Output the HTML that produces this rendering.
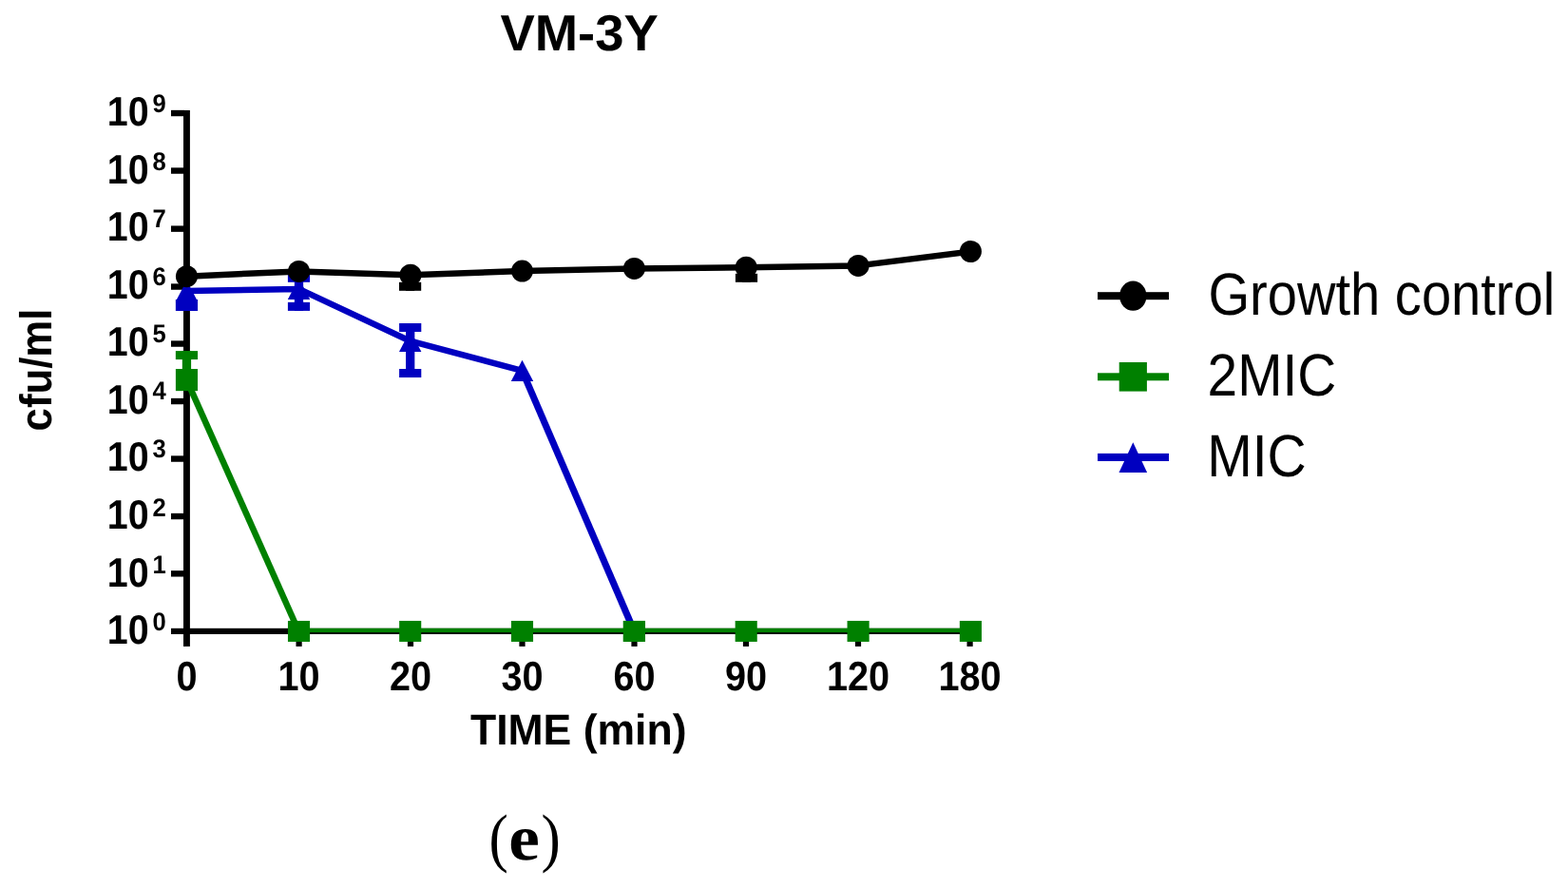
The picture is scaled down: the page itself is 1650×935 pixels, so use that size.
<!DOCTYPE html>
<html lang="en">
<head>
<meta charset="utf-8">
<title>VM-3Y</title>
<style>
html,body{margin:0;padding:0;background:#fff;}
body{width:1650px;height:935px;overflow:hidden;}
svg{display:block;}
text{font-family:"Liberation Sans",Arial,Helvetica,sans-serif;fill:#000;text-rendering:geometricPrecision;}
.b{font-weight:bold;}
.ser{font-family:"Liberation Serif","DejaVu Serif",serif;}
</style>
</head>
<body>
<svg width="1650" height="935" viewBox="0 0 1650 935">
<rect x="0" y="0" width="1650" height="935" fill="#ffffff"/>

<g id="axes">
<rect x="193.00" y="116.00" width="6.90" height="563.90" fill="#000000"/>
<rect x="180.00" y="660.80" width="844.00" height="6.20" fill="#000000"/>
<rect x="180.00" y="600.15" width="14.00" height="6.40" fill="#000000"/>
<rect x="180.00" y="539.85" width="14.00" height="6.40" fill="#000000"/>
<rect x="180.00" y="479.35" width="14.00" height="6.40" fill="#000000"/>
<rect x="180.00" y="418.85" width="14.00" height="6.40" fill="#000000"/>
<rect x="180.00" y="358.35" width="14.00" height="6.40" fill="#000000"/>
<rect x="180.00" y="298.35" width="14.00" height="6.40" fill="#000000"/>
<rect x="180.00" y="237.45" width="14.00" height="6.40" fill="#000000"/>
<rect x="180.00" y="176.35" width="14.00" height="6.40" fill="#000000"/>
<rect x="180.00" y="115.85" width="14.00" height="6.40" fill="#000000"/>
<rect x="311.50" y="664.00" width="6.20" height="15.90" fill="#000000"/>
<rect x="428.90" y="664.00" width="6.20" height="15.90" fill="#000000"/>
<rect x="546.40" y="664.00" width="6.20" height="15.90" fill="#000000"/>
<rect x="664.40" y="664.00" width="6.20" height="15.90" fill="#000000"/>
<rect x="781.90" y="664.00" width="6.20" height="15.90" fill="#000000"/>
<rect x="899.90" y="664.00" width="6.20" height="15.90" fill="#000000"/>
<rect x="1017.50" y="664.00" width="6.20" height="15.90" fill="#000000"/>
</g>
<g id="ylabels">
<text class="b" transform="translate(112.80 677.10) scale(0.915 1)" font-size="43.1">10<tspan x="52.24" dy="-14.40" font-size="27" textLength="15.59" lengthAdjust="spacingAndGlyphs">0</tspan></text>
<text class="b" transform="translate(112.80 617.00) scale(0.915 1)" font-size="43.1">10<tspan x="52.24" dy="-14.40" font-size="27" textLength="15.59" lengthAdjust="spacingAndGlyphs">1</tspan></text>
<text class="b" transform="translate(112.80 556.20) scale(0.915 1)" font-size="43.1">10<tspan x="52.24" dy="-13.40" font-size="27" textLength="15.59" lengthAdjust="spacingAndGlyphs">2</tspan></text>
<text class="b" transform="translate(112.80 495.00) scale(0.915 1)" font-size="43.1">10<tspan x="52.24" dy="-14.30" font-size="27" textLength="15.59" lengthAdjust="spacingAndGlyphs">3</tspan></text>
<text class="b" transform="translate(112.80 435.00) scale(0.915 1)" font-size="43.1">10<tspan x="52.24" dy="-14.90" font-size="27" textLength="15.59" lengthAdjust="spacingAndGlyphs">4</tspan></text>
<text class="b" transform="translate(112.80 374.00) scale(0.915 1)" font-size="43.1">10<tspan x="52.24" dy="-14.30" font-size="27" textLength="15.59" lengthAdjust="spacingAndGlyphs">5</tspan></text>
<text class="b" transform="translate(112.80 313.90) scale(0.915 1)" font-size="43.1">10<tspan x="52.24" dy="-14.30" font-size="27" textLength="15.59" lengthAdjust="spacingAndGlyphs">6</tspan></text>
<text class="b" transform="translate(112.80 252.90) scale(0.915 1)" font-size="43.1">10<tspan x="52.24" dy="-14.30" font-size="27" textLength="15.59" lengthAdjust="spacingAndGlyphs">7</tspan></text>
<text class="b" transform="translate(112.80 192.80) scale(0.915 1)" font-size="43.1">10<tspan x="52.24" dy="-13.90" font-size="27" textLength="15.59" lengthAdjust="spacingAndGlyphs">8</tspan></text>
<text class="b" transform="translate(112.80 132.00) scale(0.915 1)" font-size="43.1">10<tspan x="52.24" dy="-14.40" font-size="27" textLength="15.59" lengthAdjust="spacingAndGlyphs">9</tspan></text>
</g>
<g id="xlabels">
<text class="b" transform="translate(196.50 725.70) scale(0.9180 1.0000)" font-size="43.2" text-anchor="middle">0</text>
<text class="b" transform="translate(314.60 725.70) scale(0.9180 1.0000)" font-size="43.2" text-anchor="middle">10</text>
<text class="b" transform="translate(432.00 725.70) scale(0.9180 1.0000)" font-size="43.2" text-anchor="middle">20</text>
<text class="b" transform="translate(549.50 725.70) scale(0.9180 1.0000)" font-size="43.2" text-anchor="middle">30</text>
<text class="b" transform="translate(667.50 725.70) scale(0.9180 1.0000)" font-size="43.2" text-anchor="middle">60</text>
<text class="b" transform="translate(785.00 725.70) scale(0.9180 1.0000)" font-size="43.2" text-anchor="middle">90</text>
<text class="b" transform="translate(903.00 725.70) scale(0.9180 1.0000)" font-size="43.2" text-anchor="middle">120</text>
<text class="b" transform="translate(1020.60 725.70) scale(0.9180 1.0000)" font-size="43.2" text-anchor="middle">180</text>
</g>
<text class="b" transform="translate(609.60 52.80) scale(1.0200 1.0000)" font-size="53.4" text-anchor="middle">VM-3Y</text>
<text class="b" transform="translate(608.70 783.00) scale(0.9830 1.0000)" font-size="45.3" text-anchor="middle">TIME (min)</text>
<text class="b" transform="translate(54.1 389.0) rotate(-90) scale(0.931 1)" font-size="47" text-anchor="middle">cfu/ml</text>
<text class="ser" y="903.55" font-size="68.5"><tspan x="514.5" textLength="20.3" lengthAdjust="spacingAndGlyphs">(</tspan><tspan x="535.2" font-weight="bold" font-size="68.2" textLength="32.6" lengthAdjust="spacingAndGlyphs">e</tspan><tspan x="569.4" textLength="20.3" lengthAdjust="spacingAndGlyphs">)</tspan></text>
<g id="s2mic">
<rect x="191.80" y="369.10" width="9.30" height="29.90" fill="#008000"/>
<rect x="184.85" y="369.10" width="23.20" height="9.00" fill="#008000"/>
<polyline points="196.45,399.60 314.30,664.00" fill="none" stroke="#008000" stroke-width="6.6" stroke-linejoin="round"/>
<rect x="314.50" y="660.80" width="706.90" height="4.30" fill="#008000"/>
<rect x="184.90" y="388.05" width="23.10" height="23.10" fill="#008000"/>
<rect x="302.95" y="652.95" width="23.10" height="22.00" fill="#008000"/>
<rect x="420.15" y="652.95" width="23.10" height="22.00" fill="#008000"/>
<rect x="537.95" y="652.95" width="23.10" height="22.00" fill="#008000"/>
<rect x="655.85" y="652.95" width="23.10" height="22.00" fill="#008000"/>
<rect x="773.65" y="652.95" width="23.10" height="22.00" fill="#008000"/>
<rect x="891.55" y="652.95" width="23.10" height="22.00" fill="#008000"/>
<rect x="1009.85" y="652.95" width="23.10" height="22.00" fill="#008000"/>
</g>
<g id="smic">
<rect x="191.80" y="305.00" width="9.30" height="22.00" fill="#0000c0"/>
<rect x="184.85" y="315.00" width="23.20" height="12.00" fill="#0000c0"/>
<rect x="309.85" y="287.80" width="9.30" height="39.10" fill="#0000c0"/>
<rect x="302.90" y="287.80" width="23.20" height="9.00" fill="#0000c0"/>
<rect x="302.90" y="317.90" width="23.20" height="9.00" fill="#0000c0"/>
<rect x="427.05" y="340.00" width="9.30" height="57.00" fill="#0000c0"/>
<rect x="420.10" y="340.00" width="23.20" height="9.00" fill="#0000c0"/>
<rect x="420.10" y="388.00" width="23.20" height="9.00" fill="#0000c0"/>
<polyline points="196.45,306.10 314.50,303.90 431.70,358.70 549.50,389.90" fill="none" stroke="#0000c0" stroke-width="6.5" stroke-linejoin="round"/>
<polyline points="549.50,389.90 667.40,664.00" fill="none" stroke="#0000c0" stroke-width="7.1" stroke-linejoin="round"/>
<polygon points="196.45,294.90 208.15,317.30 184.75,317.30" fill="#0000c0"/>
<polygon points="314.50,292.70 326.20,315.10 302.80,315.10" fill="#0000c0"/>
<polygon points="431.70,347.50 443.40,369.90 420.00,369.90" fill="#0000c0"/>
<polygon points="549.50,378.70 561.20,401.10 537.80,401.10" fill="#0000c0"/>
</g>
<rect x="655.85" y="652.95" width="23.10" height="22.00" fill="#008000"/>
<g id="sgc">
<rect x="426.95" y="289.00" width="9.30" height="16.80" fill="#000000"/>
<rect x="420.00" y="296.80" width="23.20" height="9.00" fill="#000000"/>
<rect x="780.85" y="281.00" width="9.30" height="15.80" fill="#000000"/>
<rect x="773.90" y="287.80" width="23.20" height="9.00" fill="#000000"/>
<polyline points="196.45,290.70 314.50,285.40 432.00,289.20 549.50,285.10 667.40,282.40 785.20,281.20 903.10,279.40 1021.40,264.50" fill="none" stroke="#000000" stroke-width="6.5" stroke-linejoin="round"/>
<circle cx="196.45" cy="290.70" r="11.5" fill="#000000"/>
<circle cx="314.50" cy="285.40" r="11.5" fill="#000000"/>
<circle cx="432.00" cy="289.20" r="11.5" fill="#000000"/>
<circle cx="549.50" cy="285.10" r="11.5" fill="#000000"/>
<circle cx="667.40" cy="282.40" r="11.5" fill="#000000"/>
<circle cx="785.20" cy="281.20" r="11.5" fill="#000000"/>
<circle cx="903.10" cy="279.40" r="11.5" fill="#000000"/>
<circle cx="1021.40" cy="264.50" r="11.5" fill="#000000"/>
</g>
<g id="legend">
<rect x="1155.00" y="307.20" width="75.00" height="8.00" fill="#000000"/>
<ellipse cx="1192.3" cy="311.2" rx="14.2" ry="15.6" fill="#000000"/>
<rect x="1155.00" y="392.30" width="75.00" height="8.00" fill="#008000"/>
<rect x="1177.70" y="381.00" width="29.20" height="30.60" fill="#008000"/>
<rect x="1155.00" y="476.90" width="75.00" height="8.10" fill="#0000c0"/>
<polygon points="1192.3,465.3 1207.1,497.1 1177.5,497.1" fill="#0000c0"/>
<text class="" transform="translate(1271.50 330.60) scale(1.0105 1.1300)" font-size="55.5" text-anchor="start">Growth control</text>
<text class="" transform="translate(1270.56 415.80) scale(1.0227 1.1300)" font-size="55.5" text-anchor="start">2MIC</text>
<text class="" transform="translate(1270.20 501.00) scale(1.0270 1.1300)" font-size="55.5" text-anchor="start">MIC</text>
</g>
</svg>
</body>
</html>
